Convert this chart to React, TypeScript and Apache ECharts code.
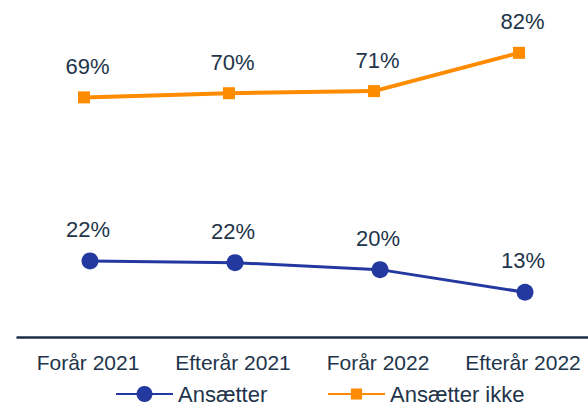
import React, { useEffect, useRef } from 'react';
import * as echarts from 'echarts';

const categories = ['Forår 2021', 'Efterår 2021', 'Forår 2022', 'Efterår 2022'];
const ansaetter = [22, 21.5, 19.5, 13];
const ansaetterIkke = [69, 70.2, 70.8, 81.8];
const seriesNames = ['Ansætter', 'Ansætter ikke'];

export default function App() {
  const ref = useRef<HTMLDivElement>(null);
  useEffect(() => {
    const chart = echarts.init(ref.current!, null, { renderer: 'svg' });
    const font = "'Liberation Sans', Arial, sans-serif";
    const textColor = '#22344a';
    const gridBase = { top: 24.3, bottom: 65.5, width: 580, outerBoundsMode: 'none' };
    const lefts = [15.5, 11.5, 17.5];
    const labelFmt = (p: any) => Math.round(p.value) + '%';
    const legendBase = {
      top: 378,
      itemWidth: 57,
      textStyle: { color: textColor, fontSize: 22, fontFamily: font },
    };
    chart.setOption({
      animation: false,
      grid: lefts.map((l) => ({ ...gridBase, left: l })),
      xAxis: lefts.map((_, i) => ({
        type: 'category',
        gridIndex: i,
        data: categories,
        boundaryGap: true,
        axisTick: { show: false },
        axisLine: { show: i === 2, lineStyle: { color: '#1d2f45', width: 2.5 } },
        axisLabel: {
          show: i === 0,
          color: textColor,
          fontSize: 21,
          fontFamily: font,
          margin: 14,
          interval: 0,
        },
        splitLine: { show: false },
      })),
      yAxis: lefts.map((_, i) => ({ type: 'value', gridIndex: i, min: 0, max: 90, show: false })),
      legend: [
        { ...legendBase, data: [seriesNames[0]], left: 110, itemHeight: 20 },
        { ...legendBase, data: [seriesNames[1]], left: 322, itemHeight: 14 },
      ],
      series: [
        {
          name: seriesNames[0],
          type: 'line',
          xAxisIndex: 2,
          yAxisIndex: 2,
          data: ansaetter,
          symbol: 'circle',
          symbolSize: 17,
          color: '#2339a0',
          lineStyle: { width: 3, color: '#2339a0' },
          itemStyle: { color: '#2339a0' },
          label: {
            show: true,
            position: 'top',
            distance: 12,
            offset: [-2, 0],
            formatter: labelFmt,
            color: textColor,
            fontSize: 22,
            fontFamily: font,
          },
        },
        {
          name: seriesNames[1],
          type: 'line',
          xAxisIndex: 1,
          yAxisIndex: 1,
          data: ansaetterIkke,
          symbol: 'rect',
          symbolSize: 12,
          color: '#ff8c00',
          lineStyle: { width: 4, color: '#ff8c00' },
          itemStyle: { color: '#ff8c00' },
          label: {
            show: true,
            position: 'top',
            distance: 14,
            offset: [3.5, 0],
            formatter: labelFmt,
            color: textColor,
            fontSize: 22,
            fontFamily: font,
          },
        },
      ],
    });
    return () => chart.dispose();
  }, []);
  return (
    <div
      ref={ref}
      style={{ position: 'fixed', left: 0, top: 0, width: 588, height: 403, background: '#fff' }}
    />
  );
}
